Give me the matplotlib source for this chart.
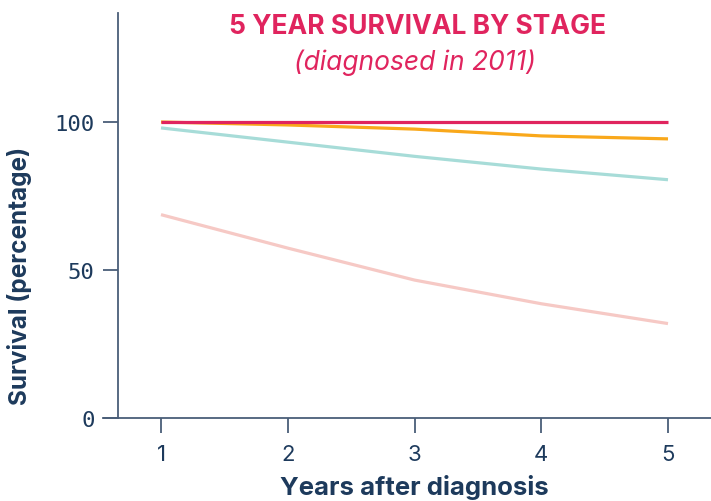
import numpy as np
import matplotlib.pyplot as plt

# data
years = [1, 2, 3, 4, 5]
stage_1 = [100, 100, 100, 100, 100]
stage_2 = [100, 99.0, 97.6, 95.3, 94.3]
stage_3 = [98.0, 93.2, 88.4, 84.1, 80.5]
stage_4 = [68.7, 57.4, 46.6, 38.6, 31.9]
y_ticks = [0, 50, 100]

navy = "#1d3a5c"
axis_col = "#4a5e78"
title_col = "#e0245e"

fig = plt.figure(figsize=(7.11, 5.02), dpi=100)
ax = fig.add_axes([118 / 711, 1 - 419 / 502, 1 - 118 / 711, (419 - 14) / 502])

ax.plot(years, stage_4, color="#f6c9c5", lw=2.3, solid_capstyle="butt")
ax.plot(years, stage_3, color="#a7dcd8", lw=2.3, solid_capstyle="butt")
ax.plot(years, stage_2, color="#f9a81b", lw=2.3, solid_capstyle="butt")
ax.plot(years, stage_1, color=title_col, lw=2.3, solid_capstyle="butt")

ax.set_xlim(1 - 43 / 126.75, 5 + 43 / 126.75)
ax.set_ylim(0, (419 - 14) / 2.96)

ax.spines["top"].set_visible(False)
ax.spines["right"].set_visible(False)
for s in ["left", "bottom"]:
    ax.spines[s].set_color(axis_col)
    ax.spines[s].set_linewidth(1.3)
# x axis line runs a bit past the y axis, like the ticks
ax.plot([-15 / 593, 0], [0, 0], transform=ax.transAxes, color=axis_col,
        lw=1.3, clip_on=False)

ax.set_xticks(years)
ax.set_yticks(y_ticks)
ax.tick_params(axis="both", colors=axis_col, length=11, width=1.3)
ax.tick_params(axis="x", pad=8, labelcolor=navy)
ax.tick_params(axis="y", pad=6, labelcolor=navy)
for lab in ax.get_xticklabels():
    lab.set_fontfamily("Inter")
    lab.set_fontsize(16)
for lab in ax.get_yticklabels():
    lab.set_fontfamily("DejaVu Sans Mono")
    lab.set_fontsize(16)

fig.text(20 / 711, 1 - 276 / 502, "Survival (percentage)", rotation=90,
         ha="center", va="center", color=navy, fontsize=17.5,
         fontweight="bold", family="Inter")
fig.text(414 / 711, 1 - 488 / 502, "Years after diagnosis", ha="center",
         va="center", color=navy, fontsize=18.5, fontweight="bold",
         family="Inter")

fig.text(417 / 711, 1 - 27 / 502, "5 YEAR SURVIVAL BY STAGE", ha="center",
         va="center", color=title_col, fontsize=19, fontweight="bold",
         family="Inter")
fig.text(415 / 711, 1 - 63 / 502, "(diagnosed in 2011)", ha="center",
         va="center", color=title_col, fontsize=19, style="italic",
         family="Inter")

fig.savefig("out.png", dpi=100)
